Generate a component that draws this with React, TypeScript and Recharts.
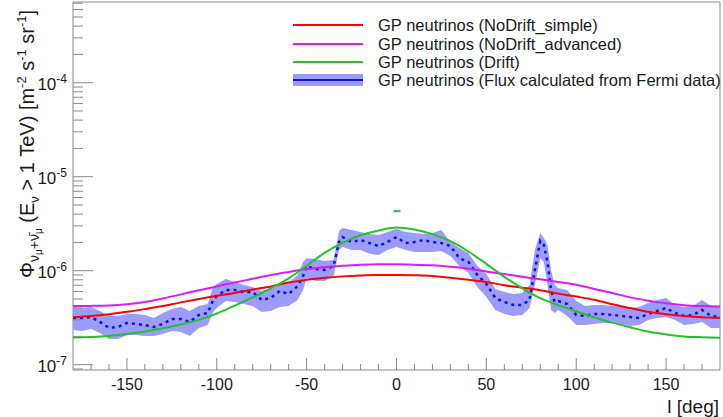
import { ComposedChart, Area, Line, Scatter, XAxis, YAxis, ReferenceArea } from "recharts";

const FONT = '"Liberation Sans", Arial, Helvetica, sans-serif';
const UNIT = 1e-7; // all flux values below are in units of 1e-7 m^-2 s^-1 sr^-1

// model curves, every 10 deg of longitude
const L_MODEL = [-180, -170, -160, -150, -140, -130, -120, -110, -100, -90, -80, -70, -60, -50, -40, -30, -20, -10, 0, 10, 20, 30, 40, 50, 60, 70, 80, 90, 100, 110, 120, 130, 140, 150, 160, 170, 180];
const NODRIFT_SIMPLE = [3.2, 3.3, 3.45, 3.65, 3.9, 4.2, 4.6, 5.0, 5.4, 5.8, 6.3, 6.8, 7.5, 8.0, 8.4, 8.7, 8.9, 9.0, 9.0, 8.95, 8.8, 8.4, 8.0, 7.6, 7.0, 6.6, 6.2, 5.7, 5.3, 4.9, 4.4, 4.0, 3.65, 3.45, 3.3, 3.2, 3.15];
const NODRIFT_ADVANCED = [4.2, 4.22, 4.27, 4.4, 4.65, 5.05, 5.6, 6.2, 6.8, 7.5, 8.2, 9.0, 9.7, 10.4, 10.9, 11.3, 11.6, 11.7, 11.7, 11.6, 11.4, 11.0, 10.5, 9.8, 9.2, 8.6, 8.1, 7.6, 7.1, 6.4, 5.8, 5.2, 4.8, 4.5, 4.3, 4.2, 4.15];
const DRIFT = [1.95, 1.97, 2.02, 2.12, 2.25, 2.45, 2.68, 3.0, 3.5, 4.25, 5.2, 6.5, 8.3, 11.3, 15.5, 19.8, 23.8, 26.8, 28.8, 27.5, 24.5, 20.6, 16.0, 11.8, 8.6, 6.5, 5.1, 4.3, 3.7, 3.2, 2.8, 2.5, 2.25, 2.1, 2.0, 1.96, 1.94];

// flux from Fermi data with its error band
const L_FERMI = [-180, -175, -170, -165, -160, -155, -150, -145, -140, -135, -130, -125, -120, -115, -110, -105, -102, -100, -95, -90, -85, -80, -75, -70, -65, -60, -55, -52, -50, -45, -40, -35, -32, -30, -25, -20, -15, -10, -5, 0, 5, 10, 15, 20, 25, 30, 35, 40, 45, 50, 55, 60, 65, 70, 74, 77, 80, 82, 84, 86, 88, 90, 95, 100, 105, 110, 115, 120, 125, 130, 135, 140, 145, 150, 155, 160, 165, 170, 175, 180];
const FERMI_FLUX = [3.14, 3.14, 3.22, 2.85, 2.46, 2.52, 2.78, 2.71, 2.64, 2.52, 2.71, 3.06, 3.06, 2.85, 3.38, 3.55, 4.88, 5.38, 6.23, 6.23, 5.93, 5.93, 4.88, 5.12, 6.08, 5.65, 6.87, 8.78, 11.2, 10.4, 10.2, 11.2, 20.2, 22.8, 20.2, 21.2, 19.7, 18.3, 20.2, 22.8, 19.7, 20.2, 21.2, 20.2, 19.7, 18.3, 13.6, 12.4, 9.0, 7.22, 5.12, 4.65, 4.32, 4.32, 4.88, 10.2, 20.7, 18.8, 12.4, 6.23, 4.65, 4.76, 4.42, 3.38, 3.3, 3.46, 3.46, 3.38, 3.3, 3.22, 3.14, 3.46, 3.73, 4.01, 3.55, 3.3, 3.38, 3.82, 3.3, 3.22];
const FERMI_HI = [4.11, 4.01, 4.11, 3.73, 3.3, 3.3, 3.46, 3.46, 3.38, 3.14, 3.55, 3.91, 4.11, 3.73, 4.21, 4.42, 6.71, 7.22, 8.16, 7.58, 7.05, 6.71, 6.08, 6.39, 7.05, 7.4, 9.0, 12.4, 13.6, 13.3, 12.7, 13.0, 26.4, 28.5, 27.1, 25.8, 24.6, 24.0, 25.8, 27.8, 25.8, 25.2, 24.6, 25.2, 27.1, 20.2, 17.4, 15.4, 11.2, 9.2, 6.39, 5.93, 5.65, 5.79, 7.05, 16.6, 25.2, 22.3, 18.8, 10.2, 7.05, 6.55, 6.23, 4.76, 4.21, 4.32, 4.32, 4.21, 4.21, 4.01, 4.11, 4.53, 4.88, 5.12, 4.32, 4.11, 4.21, 4.88, 4.21, 4.11];
const FERMI_LO = [2.34, 2.28, 2.4, 2.17, 1.88, 1.88, 2.07, 2.07, 2.02, 2.02, 2.12, 2.28, 2.23, 2.02, 2.46, 2.64, 3.64, 4.01, 4.76, 4.65, 4.42, 4.21, 3.64, 3.73, 4.11, 4.21, 4.88, 6.23, 8.36, 7.77, 7.77, 8.78, 16.6, 17.9, 16.6, 16.6, 15.1, 14.7, 16.6, 17.9, 16.6, 15.8, 15.8, 15.8, 16.2, 14.3, 11.2, 9.45, 6.71, 5.25, 3.82, 3.46, 3.3, 3.38, 4.01, 7.05, 13.6, 12.4, 7.05, 3.82, 3.55, 3.82, 3.3, 2.64, 2.64, 2.71, 2.78, 2.78, 2.71, 2.58, 2.64, 2.99, 3.14, 3.22, 2.99, 2.64, 2.71, 2.85, 2.46, 2.46];

// lone green dash drawn above the Drift peak
const STRAY_L = [0];
const STRAY_V = [43];

const SERIES_NAMES = [
  "GP neutrinos (NoDrift_simple)",
  "GP neutrinos (NoDrift_advanced)",
  "GP neutrinos (Drift)",
  "GP neutrinos (Flux calculated from Fermi data)",
];

const X_MAJOR = [-150, -100, -50, 0, 50, 100, 150];
const X_MINOR = [-170, -160, -140, -130, -120, -110, -90, -80, -70, -60, -40, -30, -20, -10, 10, 20, 30, 40, 60, 70, 80, 90, 110, 120, 130, 140, 160, 170];
const Y_EXP = [-8, -7, -6, -5, -4];
const Y_DOMAIN: [number, number] = [8.78e-8, 7.22e-4];

const RED = "#ff0000";
const MAGENTA = "#d61cff";
const GREEN = "#22c322";
const BLUE = "#1010e6";
const BAND = "#9c9cff";
const AXIS = "#8a8a8a";
const TEXT = "#1a1a1a";

const PLOT_LEFT = 73;
const PLOT_BOTTOM = 370;

const modelRows = (vals: number[]) => L_MODEL.map((l, i) => ({ l, v: vals[i] * UNIT }));
const simpleRows = modelRows(NODRIFT_SIMPLE);
const advancedRows = modelRows(NODRIFT_ADVANCED);
const driftRows = modelRows(DRIFT);
const fermiRows = L_FERMI.map((l, i) => ({
  l,
  v: FERMI_FLUX[i] * UNIT,
  band: [FERMI_LO[i] * UNIT, FERMI_HI[i] * UNIT],
}));
const strayRows = STRAY_L.map((l, i) => ({ l, v: STRAY_V[i] * UNIT }));

const yTicks: number[] = [];
Y_EXP.forEach((e) => {
  for (let k = 1; k <= 9; k++) {
    const v = k * Math.pow(10, e);
    if (v >= Y_DOMAIN[0] && v <= Y_DOMAIN[1]) yTicks.push(v);
  }
});

const XTick = (props: any) => {
  const { x, payload } = props;
  const major = X_MAJOR.includes(payload.value);
  return (
    <g>
      <line x1={x} x2={x} y1={PLOT_BOTTOM} y2={PLOT_BOTTOM - (major ? 12 : 6)} stroke={AXIS} />
      {major && (
        <text x={x} y={390} textAnchor="middle" fontSize={16} fontFamily={FONT} fill={TEXT}>
          {payload.value}
        </text>
      )}
    </g>
  );
};

const YTick = (props: any) => {
  const { y, payload } = props;
  const lg = Math.log10(payload.value);
  const e = Math.round(lg);
  const major = Math.abs(lg - e) < 1e-6;
  return (
    <g>
      <line x1={PLOT_LEFT} x2={PLOT_LEFT + (major ? 20 : 10)} y1={y} y2={y} stroke={AXIS} />
      {major && (
        <text x={67} y={y + 7.5} textAnchor="end" fontSize={17} fontFamily={FONT} fill={TEXT}>
          10
          <tspan fontSize={12} dy={-7}>{e}</tspan>
        </text>
      )}
    </g>
  );
};

const Swatch = ({ i }: { i: number }) => (
  <svg width={70} height={18} style={{ display: "block", flex: "none" }}>
    {i === 3 && <rect x={0} y={3} width={70} height={12} fill={BAND} />}
    <line x1={0} x2={70} y1={9} y2={9} stroke={[RED, MAGENTA, GREEN, BLUE][i]} strokeWidth={2} />
  </svg>
);

export default function App() {
  return (
    <div style={{ position: "absolute", left: 0, top: 0, width: 723, height: 417, background: "#fff" }}>
      <ComposedChart width={723} height={417} margin={{ top: 2, right: 3, left: 0, bottom: 0 }}>
        <XAxis
          dataKey="l"
          type="number"
          domain={[-180, 180]}
          allowDataOverflow
          ticks={[...X_MAJOR, ...X_MINOR]}
          interval={0}
          tick={<XTick />}
          tickLine={false}
          axisLine={false}
          height={47}
        />
        <YAxis
          type="number"
          scale="log"
          domain={Y_DOMAIN}
          allowDataOverflow
          ticks={yTicks}
          interval={0}
          tick={<YTick />}
          tickLine={false}
          axisLine={false}
          width={73}
        />
        <ReferenceArea x1={-180} x2={180} y1={Y_DOMAIN[0]} y2={Y_DOMAIN[1]} fill="none" stroke={AXIS} ifOverflow="visible" />
        <Area data={fermiRows} dataKey="band" type="linear" fill={BAND} fillOpacity={1} stroke="none" isAnimationActive={false} />
        <Line data={fermiRows} dataKey="v" type="linear" stroke={BLUE} strokeWidth={2.5} strokeDasharray="3 4" dot={false} isAnimationActive={false} />
        <Line data={simpleRows} dataKey="v" type="monotone" stroke={RED} strokeWidth={2} dot={false} isAnimationActive={false} />
        <Line data={advancedRows} dataKey="v" type="monotone" stroke={MAGENTA} strokeWidth={2} dot={false} isAnimationActive={false} />
        <Line data={driftRows} dataKey="v" type="monotone" stroke={GREEN} strokeWidth={2} dot={false} isAnimationActive={false} />
        <Scatter
          data={strayRows}
          dataKey="v"
          isAnimationActive={false}
          shape={(p: any) => <rect x={p.cx - 3} y={p.cy - 1} width={7} height={2} fill={GREEN} />}
        />
      </ComposedChart>

      <svg width={723} height={417} style={{ position: "absolute", left: 0, top: 0, pointerEvents: "none" }}>
        <text transform="translate(34,278) rotate(-90)" fontSize={20} fontFamily={FONT} fill={TEXT}>
          Φ
          <tspan fontSize={14} dy={5}>ν</tspan>
          <tspan fontSize={10} dy={3}>μ</tspan>
          <tspan fontSize={14} dy={-3}>+</tspan>
          <tspan fontSize={14}>{"ν\u0304"}</tspan>
          <tspan fontSize={10} dy={3}>μ</tspan>
          <tspan dy={-8}>{" (E"}</tspan>
          <tspan fontSize={13} dy={5}>ν</tspan>
          <tspan dy={-5}>{" > 1 TeV) [m"}</tspan>
          <tspan fontSize={13} dy={-8}>-2</tspan>
          <tspan dy={8}>{" s"}</tspan>
          <tspan fontSize={13} dy={-8}>-1</tspan>
          <tspan dy={8}>{" sr"}</tspan>
          <tspan fontSize={13} dy={-8}>-1</tspan>
          <tspan dy={8}>]</tspan>
        </text>
        <text x={719} y={413} textAnchor="end" fontSize={19} fontFamily={FONT} fill={TEXT}>
          l [deg]
        </text>
      </svg>

      <div style={{ position: "absolute", left: 293, top: 16, fontFamily: FONT, fontSize: 16.5, color: TEXT }}>
        {SERIES_NAMES.map((name, i) => (
          <div key={name} style={{ display: "flex", alignItems: "center", height: 18.4 }}>
            <Swatch i={i} />
            <span style={{ marginLeft: 15, whiteSpace: "nowrap", lineHeight: "18px" }}>{name}</span>
          </div>
        ))}
      </div>
    </div>
  );
}
